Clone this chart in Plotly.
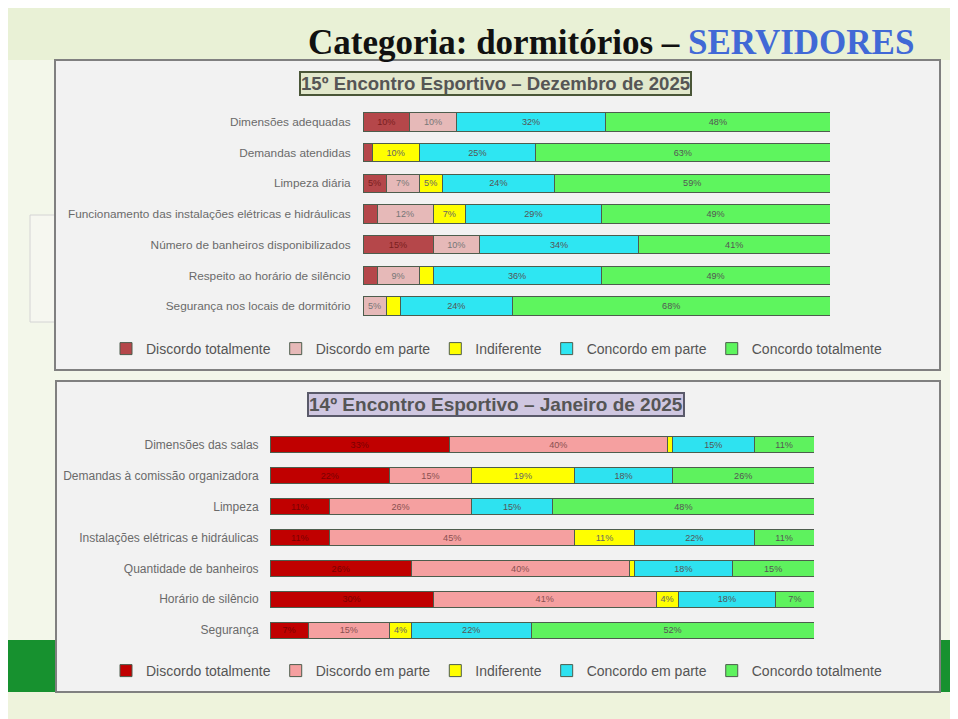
import plotly.graph_objects as go

# page body has an 8px margin; the figure sits at (8, 8)
OFF = 8
W, H = 958 - OFF, 719 - OFF

series_names = ["Discordo totalmente", "Discordo em parte", "Indiferente",
                "Concordo em parte", "Concordo totalmente"]

# --- Top chart: 15º Encontro Esportivo – Dezembro de 2025 ---
top_categories = [
    "Dimensões adequadas",
    "Demandas atendidas",
    "Limpeza diária",
    "Funcionamento das instalações elétricas e hidráulicas",
    "Número de banheiros disponibilizados",
    "Respeito ao horário de silêncio",
    "Segurança nos locais de dormitório",
]
top_discordo_totalmente = [10, 2, 5, 3, 15, 3, 0]
top_discordo_em_parte = [10, 0, 7, 12, 10, 9, 5]
top_indiferente = [0, 10, 5, 7, 0, 3, 3]
top_concordo_em_parte = [32, 25, 24, 29, 34, 36, 24]
top_concordo_totalmente = [48, 63, 59, 49, 41, 49, 68]

# --- Bottom chart: 14º Encontro Esportivo – Janeiro de 2025 ---
bot_categories = [
    "Dimensões das salas",
    "Demandas à comissão organizadora",
    "Limpeza",
    "Instalações elétricas e hidráulicas",
    "Quantidade de banheiros",
    "Horário de silêncio",
    "Segurança",
]
bot_discordo_totalmente = [33, 22, 11, 11, 26, 30, 7]
bot_discordo_em_parte = [40, 15, 26, 45, 40, 41, 15]
bot_indiferente = [1, 19, 0, 11, 1, 4, 4]
bot_concordo_em_parte = [15, 18, 15, 22, 18, 18, 22]
bot_concordo_totalmente = [11, 26, 48, 11, 15, 7, 52]

top_series = [top_discordo_totalmente, top_discordo_em_parte, top_indiferente,
              top_concordo_em_parte, top_concordo_totalmente]
bot_series = [bot_discordo_totalmente, bot_discordo_em_parte, bot_indiferente,
              bot_concordo_em_parte, bot_concordo_totalmente]

top_colors = ["#b5474a", "#e6b9b8", "#ffff00", "#2ee6f2", "#5ef55e"]
bot_colors = ["#c00000", "#f5a0a0", "#ffff00", "#2ee2f0", "#5ef25e"]
top_text_colors = ["#7a2020", "#777777", "#666666", "#555555", "#555555"]
bot_text_colors = ["#7a0000", "#8a5050", "#666666", "#555555", "#555555"]


def px(x):
    return (x - OFF) / W


def py(y):
    return 1 - (y - OFF) / H


fig = go.Figure()

for name, vals, col, tc in zip(series_names, top_series, top_colors, top_text_colors):
    fig.add_trace(go.Bar(
        y=top_categories, x=vals, name=name, orientation="h",
        marker=dict(color=col, line=dict(color="#4d5d4d", width=1)),
        text=[f"{v}%" if v > 0 else "" for v in vals],
        textposition="inside", insidetextanchor="middle", textangle=0,
        textfont=dict(size=10, color=tc, family="Liberation Sans"),
        xaxis="x", yaxis="y", legend="legend", width=0.6,
        hoverinfo="x+y+name",
    ))

for name, vals, col, tc in zip(series_names, bot_series, bot_colors, bot_text_colors):
    fig.add_trace(go.Bar(
        y=bot_categories, x=vals, name=name, orientation="h",
        marker=dict(color=col, line=dict(color="#4d5d4d", width=1)),
        text=[f"{v}%" if v > 0 else "" for v in vals],
        textposition="inside", insidetextanchor="middle", textangle=0,
        textfont=dict(size=10, color=tc, family="Liberation Sans"),
        xaxis="x2", yaxis="y2", legend="legend2", width=0.52,
        hoverinfo="x+y+name",
    ))

axis_common = dict(showgrid=False, zeroline=False, showline=False)

shapes = [
    # light top band of the slide
    dict(type="rect", xref="paper", yref="paper", x0=0, x1=1, y0=py(60), y1=1,
         fillcolor="#e9f1d6", line=dict(width=0), layer="below"),
    # light bottom band of the slide
    dict(type="rect", xref="paper", yref="paper", x0=0, x1=1, y0=0, y1=py(692),
         fillcolor="#eef3dc", line=dict(width=0), layer="below"),
    # green band
    dict(type="rect", xref="paper", yref="paper", x0=0, x1=1, y0=py(692), y1=py(640),
         fillcolor="#17912f", line=dict(width=0), layer="below"),
    # ghost box at left
    dict(type="rect", xref="paper", yref="paper", x0=px(30), x1=px(56), y0=py(322), y1=py(215),
         fillcolor="#f6f7f0", line=dict(color="#d4d4d4", width=1), layer="below"),
    # top panel
    dict(type="rect", xref="paper", yref="paper", x0=px(55), x1=px(940), y0=py(370), y1=py(60),
         fillcolor="#f2f2f2", line=dict(color="#808080", width=2), layer="below"),
    # bottom panel
    dict(type="rect", xref="paper", yref="paper", x0=px(56), x1=px(940), y0=py(692), y1=py(381),
         fillcolor="#f2f2f2", line=dict(color="#808080", width=2), layer="below"),
]

annotations = [
    dict(text="<b>Categoria: dormitórios – <span style='color:#4169d6'>SERVIDORES</span></b>",
         xref="paper", yref="paper", x=px(916), y=py(42), xanchor="right", yanchor="middle",
         showarrow=False, font=dict(family="Liberation Serif", size=35, color="#111111")),
    dict(text="<b>15º Encontro Esportivo – Dezembro de 2025</b>",
         xref="paper", yref="paper", x=px(495), y=py(83), xanchor="center", yanchor="middle",
         showarrow=False, font=dict(family="Liberation Sans", size=18.6, color="#555555"),
         bgcolor="#e2e8cc", bordercolor="#4a5638", borderwidth=2, borderpad=0),
    dict(text="<b>14º Encontro Esportivo – Janeiro de 2025</b>",
         xref="paper", yref="paper", x=px(496), y=py(404), xanchor="center", yanchor="middle",
         showarrow=False, font=dict(family="Liberation Sans", size=19, color="#555555"),
         bgcolor="#cfc7e1", bordercolor="#5a5a6a", borderwidth=2, borderpad=0),
]

fig.update_layout(
    width=W, height=H,
    margin=dict(l=0, r=0, t=0, b=0),
    paper_bgcolor="#f3f7ea",
    plot_bgcolor="rgba(0,0,0,0)",
    barmode="stack",
    uniformtext=dict(minsize=8, mode="hide"),
    font=dict(family="Liberation Sans", color="#555555"),
    xaxis=dict(domain=[px(363), px(830)], range=[0, 100], anchor="y",
               showticklabels=False, **axis_common),
    yaxis=dict(domain=[py(321.5), py(106.5)], autorange="reversed", anchor="x",
               ticks="outside", ticklen=9, tickcolor="rgba(0,0,0,0)",
               tickfont=dict(size=11.8, color="#6a6a6a"), **axis_common),
    xaxis2=dict(domain=[px(270), px(814)], range=[0, 100], anchor="y2",
                showticklabels=False, **axis_common),
    yaxis2=dict(domain=[py(645.5), py(429.5)], autorange="reversed", anchor="x2",
                ticks="outside", ticklen=8, tickcolor="rgba(0,0,0,0)",
                tickfont=dict(size=12, color="#6a6a6a"), **axis_common),
    legend=dict(orientation="h", x=px(106), y=py(349), xanchor="left", yanchor="middle",
                font=dict(size=14, color="#555555"), bgcolor="rgba(0,0,0,0)",
                itemwidth=30, traceorder="normal"),
    legend2=dict(orientation="h", x=px(106), y=py(671), xanchor="left", yanchor="middle",
                 font=dict(size=14, color="#555555"), bgcolor="rgba(0,0,0,0)",
                 itemwidth=30, traceorder="normal"),
    shapes=shapes,
    annotations=annotations,
)

fig.write_html("out.html")
